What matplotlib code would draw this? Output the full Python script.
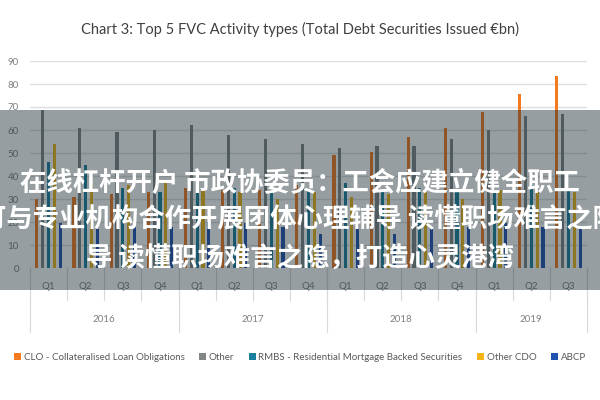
import matplotlib
matplotlib.use("Agg")
import matplotlib.pyplot as plt
import numpy as np
from matplotlib.patches import Rectangle

quarters = ["Q1", "Q2", "Q3", "Q4"] * 3 + ["Q1", "Q2", "Q3"]
years = ["2016", "2017", "2018", "2019"]
year_counts = [4, 4, 4, 3]

series_names = [
    "CLO - Collateralised Loan Obligations",
    "Other",
    "RMBS - Residential Mortgage Backed Securities",
    "Other CDO",
    "ABCP",
]
clo = [30, 31, 32, 33, 35, 34, 34, 36, 49, 50.5, 57, 61, 68, 75.5, 83.5]
other = [68.5, 61, 59, 60, 62, 58, 56, 54, 52, 53, 53, 56, 60, 66, 67]
rmbs = [46, 45, 35, 33, 34, 35, 33, 34, 37, 34, 35, 33, 33, 36, 34]
other_cdo = [54, 36, 36, 37, 34, 33, 30, 33, 31, 32, 33, 30, 34, 33, 33]
abcp = [19.5, 17, 18, 18, 20, 19.5, 18, 15, 17, 15, 17, 18, 19.5, 18, 18]
series = [clo, other, rmbs, other_cdo, abcp]
colors = ["#F47A20", "#808586", "#1A80A0", "#F2B515", "#2052B0"]

overlay_lines = [
    "在线杠杆开户 市政协委员：工会应建立健全职工",
    "可与专业机构合作开展团体心理辅导 读懂职场难言之隐",
    "导 读懂职场难言之隐，打造心灵港湾",
]

plt.rcParams["font.family"] = ["Lato", "DejaVu Sans"]

fig = plt.figure(figsize=(6, 4), dpi=100)
ax = fig.add_axes([30 / 600, 1 - 268 / 400, 557 / 600, 207 / 400])

n = len(quarters)
x = np.arange(n)
spacing = 0.157
width = 0.085
for k, (vals, c, name) in enumerate(zip(series, colors, series_names)):
    ax.bar(x + (k - 2) * spacing, vals, width=width, color=c, label=name, zorder=3)

ax.set_xlim(-0.5, n - 0.5)
ax.set_ylim(0, 90)
ax.set_yticks(np.arange(0, 91, 10))
ax.grid(axis="y", color="#dedede", linewidth=1.0, zorder=0)
for s in ax.spines.values():
    s.set_visible(False)
ax.tick_params(axis="y", length=0, labelsize=7, labelcolor="#7f7f7f", pad=8)
ax.set_xticks(x)
ax.set_xticklabels(quarters)
ax.tick_params(axis="x", length=0, labelsize=7, labelcolor="#7f7f7f", pad=10)

tr = ax.get_xaxis_transform()
for i in range(n + 1):
    pos = i - 0.5
    ax.plot([pos, pos], [0, -0.155], transform=tr, color="#d9d9d9", lw=0.8, clip_on=False)
start = 0
bounds = [0]
for yr, cnt in zip(years, year_counts):
    end = start + cnt
    ax.text((start + end - 1) / 2, -0.25, yr, transform=tr, ha="center", va="center",
            fontsize=7, color="#7f7f7f")
    start = end
    bounds.append(end)
for b in bounds:
    ax.plot([b - 0.5, b - 0.5], [0, -0.31], transform=tr, color="#d9d9d9", lw=0.8, clip_on=False)

fig.text(0.5, 1 - 29 / 400, "Chart 3: Top 5 FVC Activity types (Total Debt Securities Issued €bn)",
         ha="center", va="center", fontsize=10.5, color="#404040")

handles, labels = ax.get_legend_handles_labels()
fig.legend(handles, labels, loc="center", bbox_to_anchor=(0.5, 1 - 357 / 400), ncol=5,
           frameon=False, fontsize=7, handlelength=0.7, handleheight=0.7,
           handletextpad=0.3, columnspacing=1.5, labelcolor="#595959")

fig.patches.append(Rectangle((0, 1 - 290 / 400), 1, 180 / 400, transform=fig.transFigure,
                             facecolor=(22 / 255, 40 / 255, 48 / 255), alpha=0.45,
                             edgecolor="none", zorder=10))
ys = [183, 220, 258]
for line, yy in zip(overlay_lines, ys):
    fig.text(0.5, 1 - yy / 400, line, ha="center", va="center", fontsize=19,
             fontweight="bold", color="white", zorder=11,
             family=["Noto Sans CJK SC", "DejaVu Sans"])

fig.savefig("out.png", dpi=100)
